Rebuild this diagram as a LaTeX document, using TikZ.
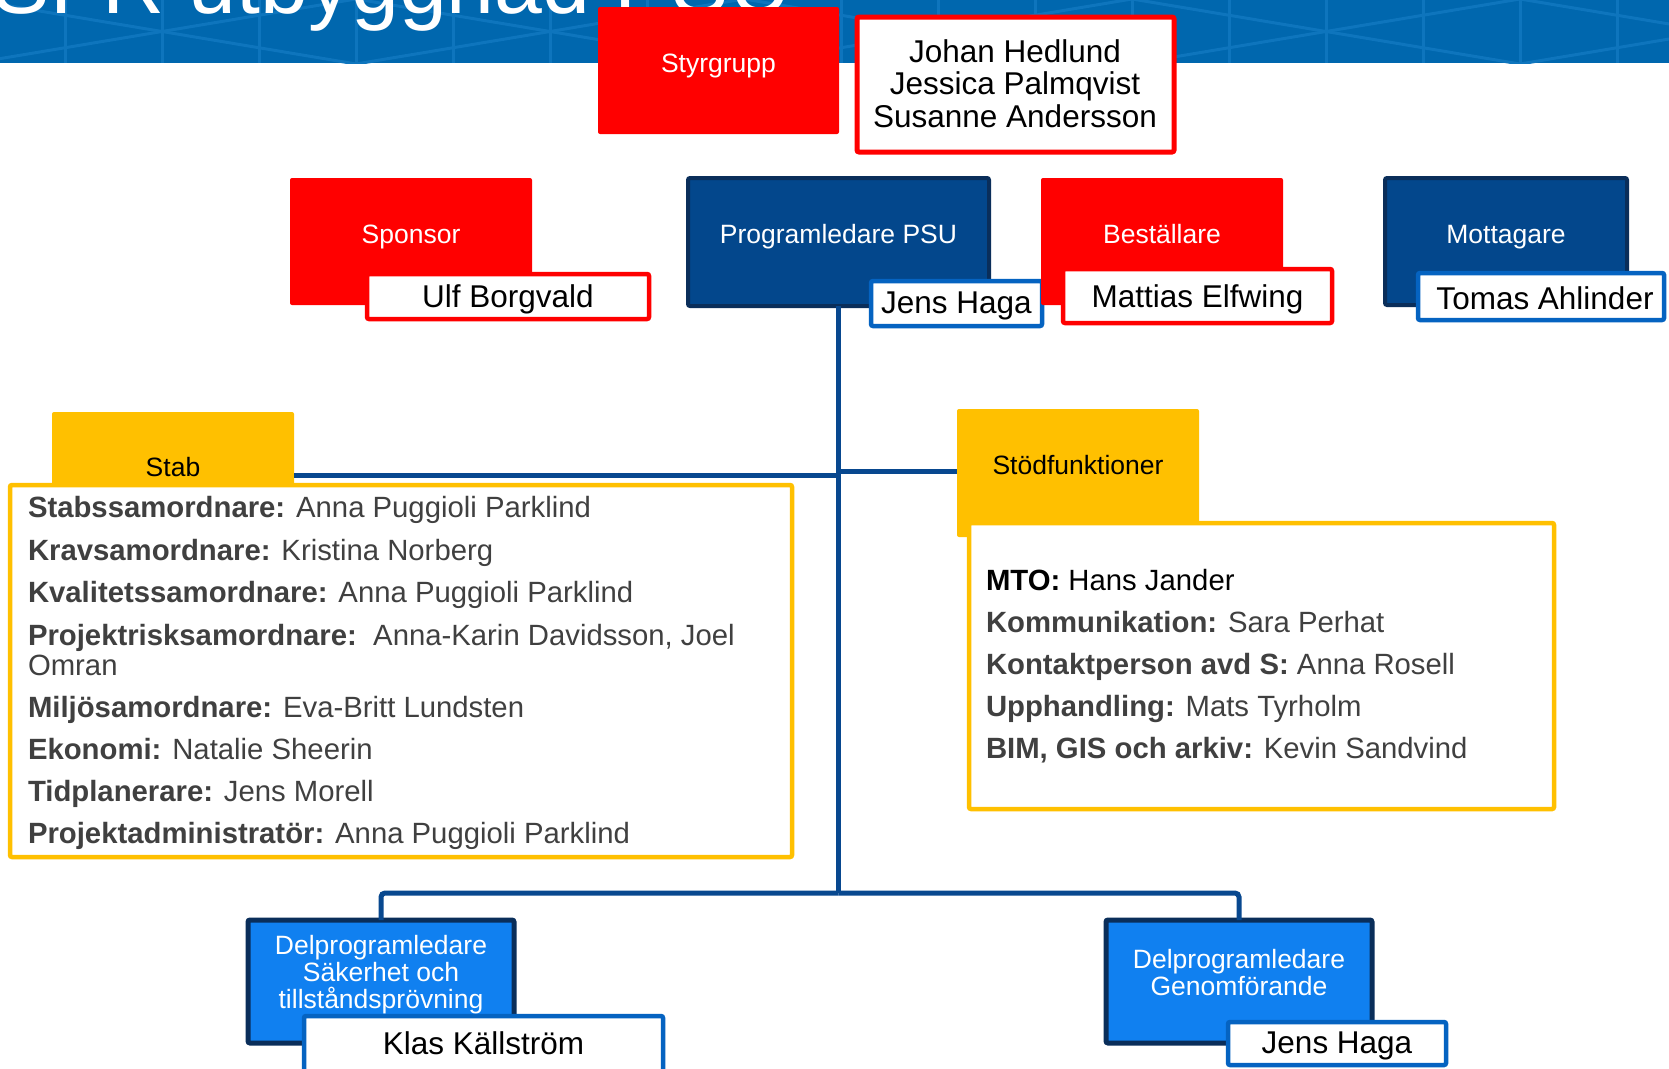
\documentclass[tikz,border=0pt]{standalone}
\usepackage{fontspec}
\setmainfont{Liberation Sans}
\definecolor{fR}{RGB}{255,0,0}
\definecolor{fNavy}{RGB}{3,71,140}
\definecolor{fNavyB}{RGB}{10,46,90}
\definecolor{fBright}{RGB}{16,128,240}
\definecolor{fY}{RGB}{255,192,0}
\definecolor{fBlueB}{RGB}{5,99,193}
\definecolor{fConn}{RGB}{8,72,143}
\definecolor{fGray}{RGB}{64,64,64}
\definecolor{fBanner}{RGB}{0,103,174}
\definecolor{fBLine}{RGB}{14,117,189}
\begin{document}
\begin{tikzpicture}[x=1pt,y=-1pt,
  every node/.style={inner sep=0pt, outer sep=0pt},
  box/.style={rectangle, anchor=north west, rounded corners=2pt},
  redbox/.style={box, fill=fR},
  navybox/.style={box, fill=fNavy, draw=fNavyB, line width=4pt},
  brightbox/.style={box, fill=fBright, draw=fNavyB, line width=5pt},
  yelbox/.style={box, fill=fY},
  namebox/.style={box, fill=white, line width=4.5pt},
  listbox/.style={box, fill=white, draw=fY, line width=4.5pt},
  lbl/.style={anchor=base, font=\fontsize{26.5}{28}\selectfont, text=black},
  wlbl/.style={lbl, text=white},
  nm/.style={anchor=base, font=\fontsize{31.5}{33}\selectfont, text=black},
  li/.style={anchor=base west, font=\fontsize{29.3}{31}\selectfont, text=fGray},
  conn/.style={draw=fConn, line width=5pt},
]
\useasboundingbox (0,0) rectangle (1669,1068);
\fill[white] (0,0) rectangle (1669,1068);

% banner
\fill[fBanner] (0,0) rectangle (1669,63);
\begin{scope}
  \clip (0,0) rectangle (1669,63);
  \foreach \x in {65,162,...,1700} \draw[fBLine, line width=3pt] (\x,0) -- (\x,63);
  \foreach \c in {-226,162,550,938,1326,1714} {
    \draw[fBLine, line width=3pt] (\c-194,-1) -- (\c+194,64);
    \draw[fBLine, line width=3pt] (\c-194,64) -- (\c+194,-1);
  }
  \node[anchor=base west, text=white, font=\fontsize{86}{86}\selectfont] (title) at (-7,13) {SFR utbyggnad PSU};
\end{scope}

% Styrgrupp
\node[redbox, minimum width=241pt, minimum height=127pt] (styr) at (598,7) {};
\node[wlbl] (styrt) at (718.5,72) {Styrgrupp};
\node[namebox, draw=fR, line width=5pt, minimum width=317pt, minimum height=135pt] (johan) at (857,17) {};
\node[nm] (jo1) at (1015,62) {Johan Hedlund};
\node[nm] (jo2) at (1015,94.5) {Jessica Palmqvist};
\node[nm] (jo3) at (1015,127) {Susanne Andersson};

% top row
\node[redbox, minimum width=242pt, minimum height=127pt] (spon) at (290,178) {};
\node[wlbl] (spont) at (411,243) {Sponsor};
\node[namebox, draw=fR, minimum width=282pt, minimum height=45pt] (ulf) at (367,274) {};
\node[nm] (ulft) at (508,307) {Ulf Borgvald};

\node[navybox, minimum width=301pt, minimum height=128pt] (prog) at (688,178) {};
\node[wlbl] (progt) at (838.5,243) {Programledare PSU};
\node[namebox, draw=fBlueB, minimum width=171pt, minimum height=45pt] (jh1) at (871,281) {};
\node[nm] (jh1t) at (956.5,313) {Jens Haga};

\node[redbox, minimum width=242pt, minimum height=127pt] (best) at (1041,178) {};
\node[wlbl] (bestt) at (1162,243) {Beställare};
\node[namebox, draw=fR, minimum width=269pt, minimum height=54pt] (mat) at (1063,269) {};
\node[nm] (matt) at (1197.5,307) {Mattias Elfwing};

\node[navybox, minimum width=242pt, minimum height=127pt] (mott) at (1385,178) {};
\node[wlbl] (mottt) at (1506,243) {Mottagare};
\node[namebox, draw=fBlueB, minimum width=246pt, minimum height=47pt] (tom) at (1418,273) {};
\node[nm] (tomt) at (1545,309) {Tomas Ahlinder};

% Stab
\node[yelbox, minimum width=242pt, minimum height=90pt] (stab) at (52,412) {};
\node[lbl] (stabt) at (173,476) {Stab};
\node[listbox, minimum width=782pt, minimum height=372pt] (stabl) at (10,485) {};
\node[li] (s1) at (28,517) {\textbf{Stabssamordnare:} Anna Puggioli Parklind};
\node[li] (s2) at (28,560) {\textbf{Kravsamordnare:} Kristina Norberg};
\node[li] (s3) at (28,602) {\textbf{Kvalitetssamordnare:} Anna Puggioli Parklind};
\node[li] (s4) at (28,645) {\textbf{Projektrisksamordnare:}\ \ Anna-Karin Davidsson, Joel};
\node[li] (s4b) at (28,675) {Omran};
\node[li] (s5) at (28,717) {\textbf{Miljösamordnare:} Eva-Britt Lundsten};
\node[li] (s6) at (28,759) {\textbf{Ekonomi:} Natalie Sheerin};
\node[li] (s7) at (28,801) {\textbf{Tidplanerare:} Jens Morell};
\node[li] (s8) at (28,843) {\textbf{Projektadministratör:} Anna Puggioli Parklind};

% Stodfunktioner
\node[yelbox, minimum width=242pt, minimum height=128pt] (stod) at (957,409) {};
\node[lbl] (stodt) at (1078,474) {Stödfunktioner};
\node[listbox, minimum width=585pt, minimum height=286pt] (stodl) at (969,523) {};
\node[li, text=black] (t1) at (986,590) {\textbf{MTO:} Hans Jander};
\node[li] (t2) at (986,632) {\textbf{Kommunikation:} Sara Perhat};
\node[li] (t3) at (986,674) {\textbf{Kontaktperson avd S:} Anna Rosell};
\node[li] (t4) at (986,716) {\textbf{Upphandling:} Mats Tyrholm};
\node[li] (t5) at (986,758) {\textbf{BIM, GIS och arkiv:} Kevin Sandvind};

% bottom
\node[brightbox, minimum width=266pt, minimum height=123pt] (dps) at (248,920) {};
\node[wlbl] (dps1) at (381,954) {Delprogramledare};
\node[wlbl] (dps2) at (381,981) {Säkerhet och};
\node[wlbl] (dps3) at (381,1008) {tillståndsprövning};
\node[namebox, draw=fBlueB, minimum width=359pt, minimum height=70pt] (klas) at (304,1016) {};
\node[nm] (klast) at (483.5,1054) {Klas Källström};

\node[brightbox, minimum width=266pt, minimum height=123pt] (dpg) at (1106,920) {};
\node[wlbl] (dpg1) at (1239,968) {Delprogramledare};
\node[wlbl] (dpg2) at (1239,995) {Genomförande};
\node[namebox, draw=fBlueB, minimum width=218pt, minimum height=43pt] (jh2) at (1228,1022) {};
\node[nm] (jh2t) at (1337,1053) {Jens Haga};

% connectors
\coordinate (hub) at (838.5,893);
\coordinate (jl) at (838.5,475);
\coordinate (jr) at (838.5,471);
\draw[conn] (prog.south) -- (hub);
\draw[conn, rounded corners=4pt] (hub) -| (dps.north);
\draw[conn, rounded corners=4pt] (hub) -| (dpg.north);
\draw[conn] (stab.east |- jl) -- (jl);
\draw[conn] (jr) -- (stod.west |- jr);
\end{tikzpicture}
\end{document}
